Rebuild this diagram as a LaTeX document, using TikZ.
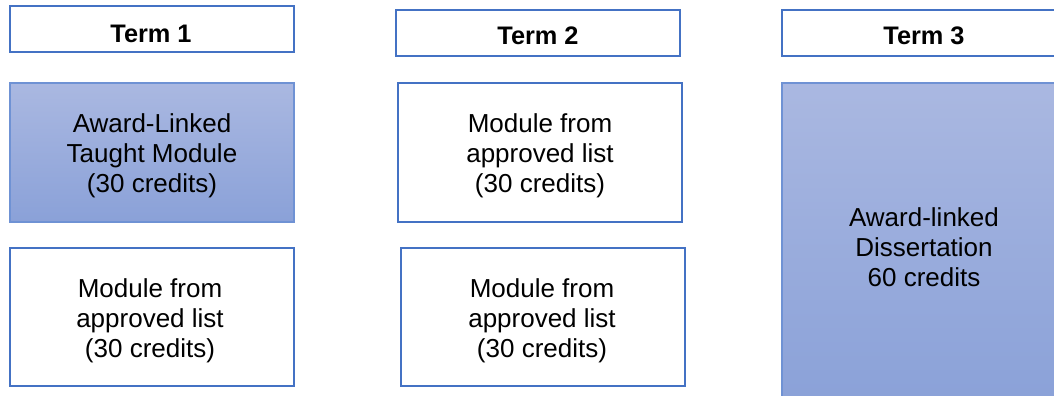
\documentclass[tikz,border=0pt]{standalone}
\usepackage{fontspec}
\setmainfont{Liberation Sans}
\definecolor{termblue}{RGB}{68,114,196}
\definecolor{awardtop}{RGB}{170,184,225}
\definecolor{awardbot}{RGB}{138,161,216}
\definecolor{awardline}{RGB}{111,146,212}

\begin{document}
\begin{tikzpicture}[x=0.75pt, y=-0.75pt,
  every node/.style={font=\fontsize{19.5}{22.5}\selectfont, align=center},
  termlabel/.style={font=\bfseries\fontsize{19}{22}\selectfont},
  termbox/.style={draw=termblue, line width=1.9pt, fill=white},
  modbox/.style={draw=termblue, line width=1.6pt, fill=white},
  awardbox/.style={draw=awardline, line width=1.2pt, top color=awardtop, bottom color=awardbot}]
\clip (0,0) rectangle (1054,396);

% Term headers
\draw[termbox] (10,6) rectangle (294,52);
\draw[termbox] (396,10) rectangle (680,56);
\draw[termbox] (782,10) rectangle (1066,56);
\node[termlabel] (term1) at (151,33.5) {Term 1};
\node[termlabel] (term2) at (538,36) {Term 2};
\node[termlabel] (term3) at (924,36) {Term 3};

% Term 1 modules
\draw[awardbox] (10,83) rectangle (294,222);
\node (taught) at (152,156) {Award-Linked\\Taught Module\\(30 credits)};
\draw[modbox] (10,248) rectangle (294,386);
\node (t1list) at (150,321) {Module from\\approved list\\(30 credits)};

% Term 2 modules
\draw[modbox] (398,83) rectangle (682,222);
\node (t2lista) at (540,156) {Module from\\approved list\\(30 credits)};
\draw[modbox] (401,248) rectangle (685,386);
\node (t2listb) at (542,321) {Module from\\approved list\\(30 credits)};

% Term 3 dissertation
\draw[awardbox] (782,83) rectangle (1066,405);
\node (diss) at (924,247) {Award-linked\\Dissertation\\60 credits};
\end{tikzpicture}
\end{document}
